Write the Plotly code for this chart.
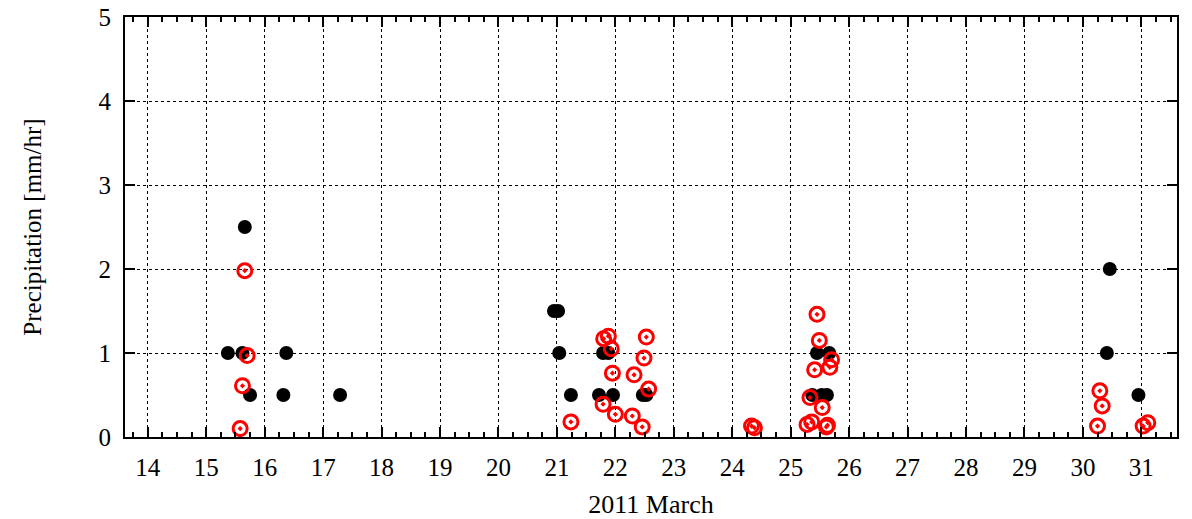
"""2011年3月 降水量 散布図"""

import plotly.graph_objects as go

# 雨量計 (黒丸)
gauge_day = [15.37, 15.62, 15.66, 15.75, 16.32, 16.37, 17.29,
             20.95, 21.02, 21.04, 21.24, 21.72, 21.79, 21.88, 21.96, 22.47, 22.53,
             25.37, 25.45, 25.53, 25.62, 25.66,
             30.41, 30.46, 30.95]
gauge_mm = [1.0, 1.0, 2.5, 0.5, 0.5, 1.0, 0.5,
            1.5, 1.5, 1.0, 0.5, 0.5, 1.0, 1.0, 0.5, 0.5, 0.5,
            0.5, 1.0, 0.5, 0.5, 1.0,
            1.0, 2.0, 0.5]

# 推定値 (赤丸)
est_day = [15.58, 15.62, 15.66, 15.70,
           21.24, 21.79, 21.80, 21.88, 21.93, 21.95, 22.00, 22.29, 22.32, 22.46, 22.49, 22.53, 22.57,
           24.33, 24.38,
           25.28, 25.33, 25.36, 25.41, 25.45, 25.49, 25.54, 25.61, 25.63, 25.67, 25.70,
           30.25, 30.29, 30.33, 31.03, 31.11]
est_mm = [0.10, 0.61, 1.98, 0.97,
          0.18, 0.39, 1.17, 1.20, 1.05, 0.76, 0.27, 0.25, 0.74, 0.12, 0.94, 1.19, 0.57,
          0.13, 0.11,
          0.15, 0.47, 0.18, 0.80, 1.46, 1.15, 0.35, 0.12, 0.14, 0.83, 0.92,
          0.13, 0.55, 0.37, 0.13, 0.17]

x_ticks = list(range(14, 32))
y_ticks = [0, 1, 2, 3, 4, 5]

FONT = "Liberation Serif, Times New Roman, serif"

fig = go.Figure()
fig.add_trace(go.Scatter(
    x=gauge_day, y=gauge_mm, mode="markers",
    marker=dict(symbol="circle", size=14, color="black"),
    showlegend=False,
))
fig.add_trace(go.Scatter(
    x=est_day, y=est_mm, mode="markers",
    marker=dict(symbol="circle-open-dot", size=14, color="red",
                line=dict(width=3, color="red")),
    showlegend=False,
))

axis_common = dict(
    showline=True, linecolor="black", linewidth=2, mirror="allticks",
    ticks="inside", ticklen=10, tickwidth=1.5, tickcolor="black",
    showgrid=True, gridcolor="black", gridwidth=1, griddash="dot",
    zeroline=False, automargin=False,
    tickfont=dict(family=FONT, size=25, color="black"),
)

fig.update_layout(
    width=1192, height=519,
    margin=dict(l=125, r=15, t=17, b=82),
    plot_bgcolor="white", paper_bgcolor="white",
    font=dict(family=FONT, size=25, color="black"),
    xaxis=dict(
        axis_common, range=[13.61, 31.61], tickvals=x_ticks,
        ticklabelstandoff=7,
        minor=dict(ticks="inside", dtick=0.25, tick0=0, ticklen=5,
                   tickcolor="black", showgrid=False),
        title=dict(text="2011 March", font=dict(family=FONT, size=26), standoff=17),
    ),
    yaxis=dict(
        axis_common, range=[0, 5], tickvals=y_ticks,
        ticklabelstandoff=7,
        title=dict(text="Precipitation [mm/hr]", font=dict(family=FONT, size=25), standoff=50),
    ),
)

# ページ余白をなくして図を左上に合わせる
fig.write_html("out.html", config={"displayModeBar": False},
               post_script="document.body.style.margin='0';")
